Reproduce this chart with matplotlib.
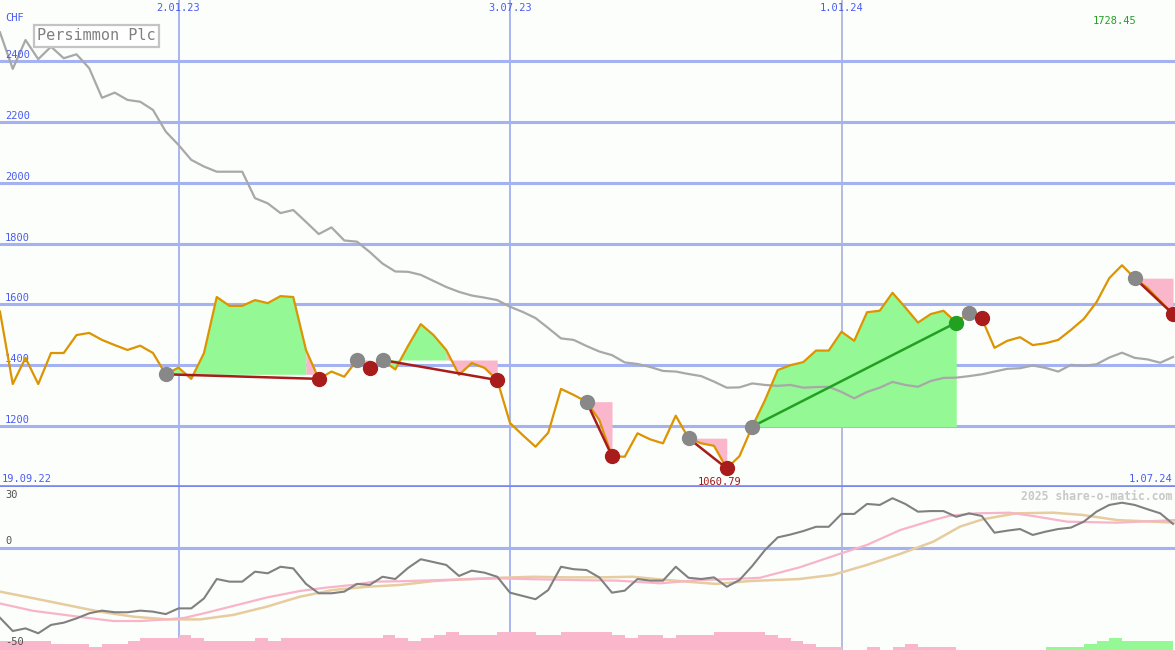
import numpy as np
import pandas as pd
import matplotlib
matplotlib.use("Agg")
import matplotlib.pyplot as plt
import matplotlib.dates as mdates

# weekly closing prices (CHF), one value per week from 26.09.22
price = [1576, 1338, 1424, 1338, 1440, 1440, 1499, 1506, 1483, 1466,
         1450, 1464, 1440, 1370, 1392, 1355, 1440, 1624, 1595, 1595,
         1614, 1604, 1627, 1624, 1450, 1355, 1379, 1362, 1417, 1390,
         1417, 1386, 1463, 1535, 1499, 1450, 1368, 1407, 1391, 1351,
         1210, 1170, 1132, 1178, 1322, 1302, 1280, 1220, 1101, 1099,
         1176, 1156, 1143, 1234, 1160, 1143, 1135, 1060.79, 1101, 1198,
         1285, 1384, 1400, 1410, 1448, 1448, 1510, 1480, 1574, 1579,
         1638, 1590, 1540, 1568, 1579, 1540, 1572, 1554, 1457, 1480,
         1492, 1466, 1472, 1483, 1516, 1552, 1607, 1686, 1728.45, 1686,
         1654, 1611, 1568]

# long moving average (grey line)
avg_line = [2494, 2374, 2469, 2406, 2447, 2409, 2422, 2376, 2279, 2296,
            2272, 2266, 2239, 2168, 2124, 2075, 2053, 2036, 2036, 2036,
            1949, 1932, 1900, 1910, 1871, 1831, 1853, 1810, 1806, 1772,
            1734, 1708, 1707, 1697, 1677, 1657, 1641, 1629, 1622, 1614,
            1592, 1575, 1555, 1522, 1488, 1483, 1463, 1445, 1433, 1409,
            1404, 1394, 1381, 1379, 1371, 1364, 1346, 1326, 1327, 1340,
            1335, 1332, 1335, 1326, 1328, 1329, 1312, 1291, 1312, 1326,
            1345, 1335, 1329, 1348, 1358, 1359, 1364, 1370, 1379, 1388,
            1390, 1399, 1391, 1379, 1401, 1398, 1403, 1425, 1441, 1424,
            1419, 1408, 1427]

# oscillator in the lower panel
osc = [-34.2, -40.7, -39.4, -41.8, -37.7, -36.6, -34.5, -32.0, -30.7, -31.5,
       -31.5, -30.7, -31.2, -32.4, -29.6, -29.6, -24.7, -15.2, -16.5, -16.5,
       -11.6, -12.4, -9.2, -10.0, -17.6, -22.2, -22.2, -21.4, -17.6, -18.1,
       -14.1, -15.2, -9.8, -5.5, -6.9, -8.3, -13.7, -11.1, -12.1, -14.1,
       -21.9, -23.5, -25.1, -20.6, -9.2, -10.4, -10.8, -14.4, -21.9, -20.9,
       -15.2, -16.0, -16.0, -9.2, -14.6, -15.2, -14.4, -19.0, -15.7, -8.8,
       -1.0, 5.2, 6.6, 8.3, 10.4, 10.4, 16.7, 16.7, 21.6, 21.1,
       24.4, 21.6, 17.8, 18.1, 18.1, 15.3, 17.0, 15.7, 7.5, 8.5,
       9.3, 6.4, 8.0, 9.3, 10.0, 12.9, 17.8, 21.1, 22.2, 21.1,
       19.0, 17.0, 11.8]

# smoothed signal lines (week number, value)
pink_wk = [0, 2.6, 4.7, 6.8, 8.9, 11.0, 13.1, 14.5, 16.2, 18.3, 20.9, 23.5, 25.6,
           27.7, 29.3, 31.4, 34.0, 36.6, 39.2, 41.8, 45.8, 48.4, 51.8, 54.9, 57.5,
           59.6, 62.7, 66.0, 68.0, 70.6, 73.2, 74.5, 76.6, 79.2, 81.0, 83.7, 87.6, 92.2]
pink_val = [-27.2, -30.8, -32.5, -34.2, -35.8, -35.8, -35.0, -34.2, -31.7, -28.4,
            -24.3, -21.1, -19.4, -18.1, -16.5, -16.3, -15.8, -15.3, -14.9, -15.3,
            -15.8, -16.0, -17.3, -15.7, -15.2, -14.6, -9.5, -2.6, 1.5, 8.8,
            13.7, 15.8, 17.0, 17.3, 15.7, 12.9, 12.4, 13.7]
tan_wk = [0, 2.6, 5.2, 7.8, 10.5, 13.1, 15.7, 18.3, 20.9, 23.5, 26.1, 28.8, 31.4,
          34.0, 36.6, 39.2, 41.8, 44.4, 47.1, 49.6, 52.3, 54.9, 56.2, 58.8, 62.7,
          65.3, 68.0, 70.6, 73.2, 75.3, 77.1, 79.7, 82.6, 84.9, 87.6, 92.2]
tan_val = [-21.4, -24.6, -27.9, -31.2, -33.7, -35.0, -35.0, -32.8, -28.8, -23.9,
           -20.6, -19.0, -18.1, -16.2, -15.3, -14.6, -14.1, -14.4, -14.4, -14.1,
           -15.7, -17.0, -17.6, -16.2, -15.2, -13.2, -8.3, -2.9, 3.1, 10.5,
           14.1, 17.0, 17.3, 16.2, 13.7, 12.4]

# weekly histogram, negative = pink, positive = green
hist = ([-4.5] * 4 + [-3] * 3 + [-1.5] + [-3] * 2 + [-4.5] + [-6] * 3 + [-7.5] + [-6]
        + [-4.5] * 4 + [-6] + [-4.5] + [-6] * 8 + [-7.5] + [-6] + [-4.5] + [-6] + [-7.5]
        + [-9] + [-7.5] * 3 + [-9] * 3 + [-7.5] * 2 + [-9] * 4 + [-7.5] + [-6] + [-7.5] * 2
        + [-6] + [-7.5] * 3 + [-9] * 4 + [-7.5] + [-6] + [-4.5] + [-3] + [-1.5] * 2
        + [0] * 2 + [-1.5] + [0] + [-1.5] + [-3] + [-1.5] * 3 + [0] * 7
        + [1.5] * 3 + [3] + [4.5] + [6] + [4.5] * 4)

# trades: entry week, week the fill turns pink, exit week
trade_entry = [13, 28, 30, 46, 54, 59, 76, 89]
trade_flip = [24, 28, 35, 46, 54, 75, 76, 89]
trade_exit = [25, 29, 39, 48, 57, 75, 77, 92]

price_ticks = [1200, 1400, 1600, 1800, 2000, 2200, 2400]
grid_dates = ["2023-01-02", "2023-07-03", "2024-01-01"]
grid_labels = ["2.01.23", "3.07.23", "1.01.24"]

BG = "#fcfefc"
GRID = "#a4b2f2"
BLUE_TXT = "#4a5cf0"
MONO = "DejaVu Sans Mono"

weeks = pd.date_range("2022-09-26", periods=len(price), freq="7D")
x = mdates.date2num(weeks)
x0 = x[0]
x_end = x0 + 1175 / 12.75 * 7
price = np.array(price)

fig = plt.figure(figsize=(11.75, 6.5), dpi=100, facecolor=BG)
split = 163 / 650
ax = fig.add_axes([0, split, 1, 1 - split], facecolor=BG)
ax2 = fig.add_axes([0, 0, 1, split], facecolor=BG)

for a in (ax, ax2):
    a.set_xlim(x0, x_end)
    for s in a.spines.values():
        s.set_visible(False)
    a.set_xticks([])
    a.set_yticks([])
    for d in grid_dates:
        col = "#b6bcdc" if d.startswith("2024") else "#a8b4f0"
        a.axvline(mdates.datestr2num(d), color=col, lw=1.4, zorder=0)

# ---- main price panel ----
ax.set_ylim(999.5, 2600.5)
for v in price_ticks:
    ax.axhline(v, color=GRID, lw=2.2, zorder=0)
    ax.text(5 / 1175, v + 3, str(v), transform=ax.get_yaxis_transform(),
            fontsize=7.5, family=MONO, color=BLUE_TXT, va="bottom", ha="left")
ax.axhline(999.5, color="#7886ee", lw=2.6, zorder=6, clip_on=False)

for d, lab in zip(grid_dates, grid_labels):
    ax.text(mdates.datestr2num(d), 1 - 8 / 487, lab, transform=ax.get_xaxis_transform(),
            fontsize=7.5, family=MONO, color=BLUE_TXT, ha="center", va="center")
ax.text(5 / 1175, 1 - 18 / 487, "CHF", transform=ax.transAxes, fontsize=7.5,
        family=MONO, color=BLUE_TXT, va="center")
ax.text(2 / 1175, 8 / 487, "19.09.22", transform=ax.transAxes, fontsize=7.5,
        family=MONO, color=BLUE_TXT, va="center")
ax.text(1172 / 1175, 8 / 487, "1.07.24", transform=ax.transAxes, fontsize=7.5,
        family=MONO, color=BLUE_TXT, va="center", ha="right")

for e, f, q in zip(trade_entry, trade_flip, trade_exit):
    level = price[e]
    if f > e:
        ax.fill_between(x[e:f + 1], level, price[e:f + 1], color="#94f894", lw=0, zorder=1)
    if q > f:
        ax.fill_between(x[f:q + 1], level, price[f:q + 1], color="#fab6ca", lw=0, zorder=1)
    win = price[q] > level
    col = "#22a022" if win else "#a81c1c"
    ax.plot([x[e], x[q]], [level, price[q]], color=col, lw=1.8, zorder=4)
    ax.plot(x[e], level, "o", ms=10, color="#888888", zorder=5)
    ax.plot(x[q], price[q], "o", ms=10, color=col, zorder=5)

ax.plot(x, avg_line, color="#a8a8a8", lw=1.6, zorder=2)
ax.plot(x, price, color="#dc9400", lw=1.6, zorder=3)

hi = int(np.argmax(price))
lo = int(np.argmin(price))
ax.annotate(f"{price[hi]:.2f}", (x[hi], 2600.5), xytext=(-7, -21), textcoords="offset pixels",
            fontsize=7.5, family=MONO, color="#22a022", ha="center", va="center")
ax.annotate(f"{price[lo]:.2f}", (x[lo], price[lo]), xytext=(-7, -14), textcoords="offset pixels",
            fontsize=7.5, family=MONO, color="#a01818", ha="center", va="center")

ax.text(37 / 1175, 1 - 36 / 487, "Persimmon Plc", transform=ax.transAxes, fontsize=11,
        family=MONO, color="#808080", va="center", ha="left",
        bbox=dict(boxstyle="square,pad=0.2", fc="white", ec="#c4c4c4", lw=1.6))

# ---- lower oscillator panel ----
ax2.set_ylim(-50, 29.9)
ax2.axhline(0, color=GRID, lw=2.2, zorder=0)
ax2.bar(x[:len(hist)], np.abs(hist), width=7, bottom=-50, align="edge",
        color=["#94f894" if h > 0 else "#fab6ca" for h in hist], lw=0, zorder=1)
ax2.plot(x0 + np.array(tan_wk) * 7, tan_val, color="#e6cc9e", lw=1.8, zorder=2)
ax2.plot(x0 + np.array(pink_wk) * 7, pink_val, color="#f8b4c8", lw=1.6, zorder=3)
ax2.plot(x, osc, color="#808080", lw=1.5, zorder=4)

ax2.text(5 / 1175, 1 - 8 / 163, "30", transform=ax2.transAxes, fontsize=7.5, family=MONO,
         color="#505050", va="center")
ax2.text(5 / 1175, 1, "0", transform=ax2.get_yaxis_transform(), fontsize=7.5, family=MONO,
         color="#505050", va="bottom")
ax2.text(5 / 1175, 8 / 163, "-50", transform=ax2.transAxes, fontsize=7.5, family=MONO,
         color="#505050", va="center")
ax2.text(1172 / 1175, 1 - 9 / 163, "2025 share-o-matic.com", transform=ax2.transAxes,
         fontsize=8.3, family=MONO, fontweight="bold", color="#c8c8c8", ha="right",
         va="center")

fig.savefig("out.png", dpi=100, facecolor=BG)
